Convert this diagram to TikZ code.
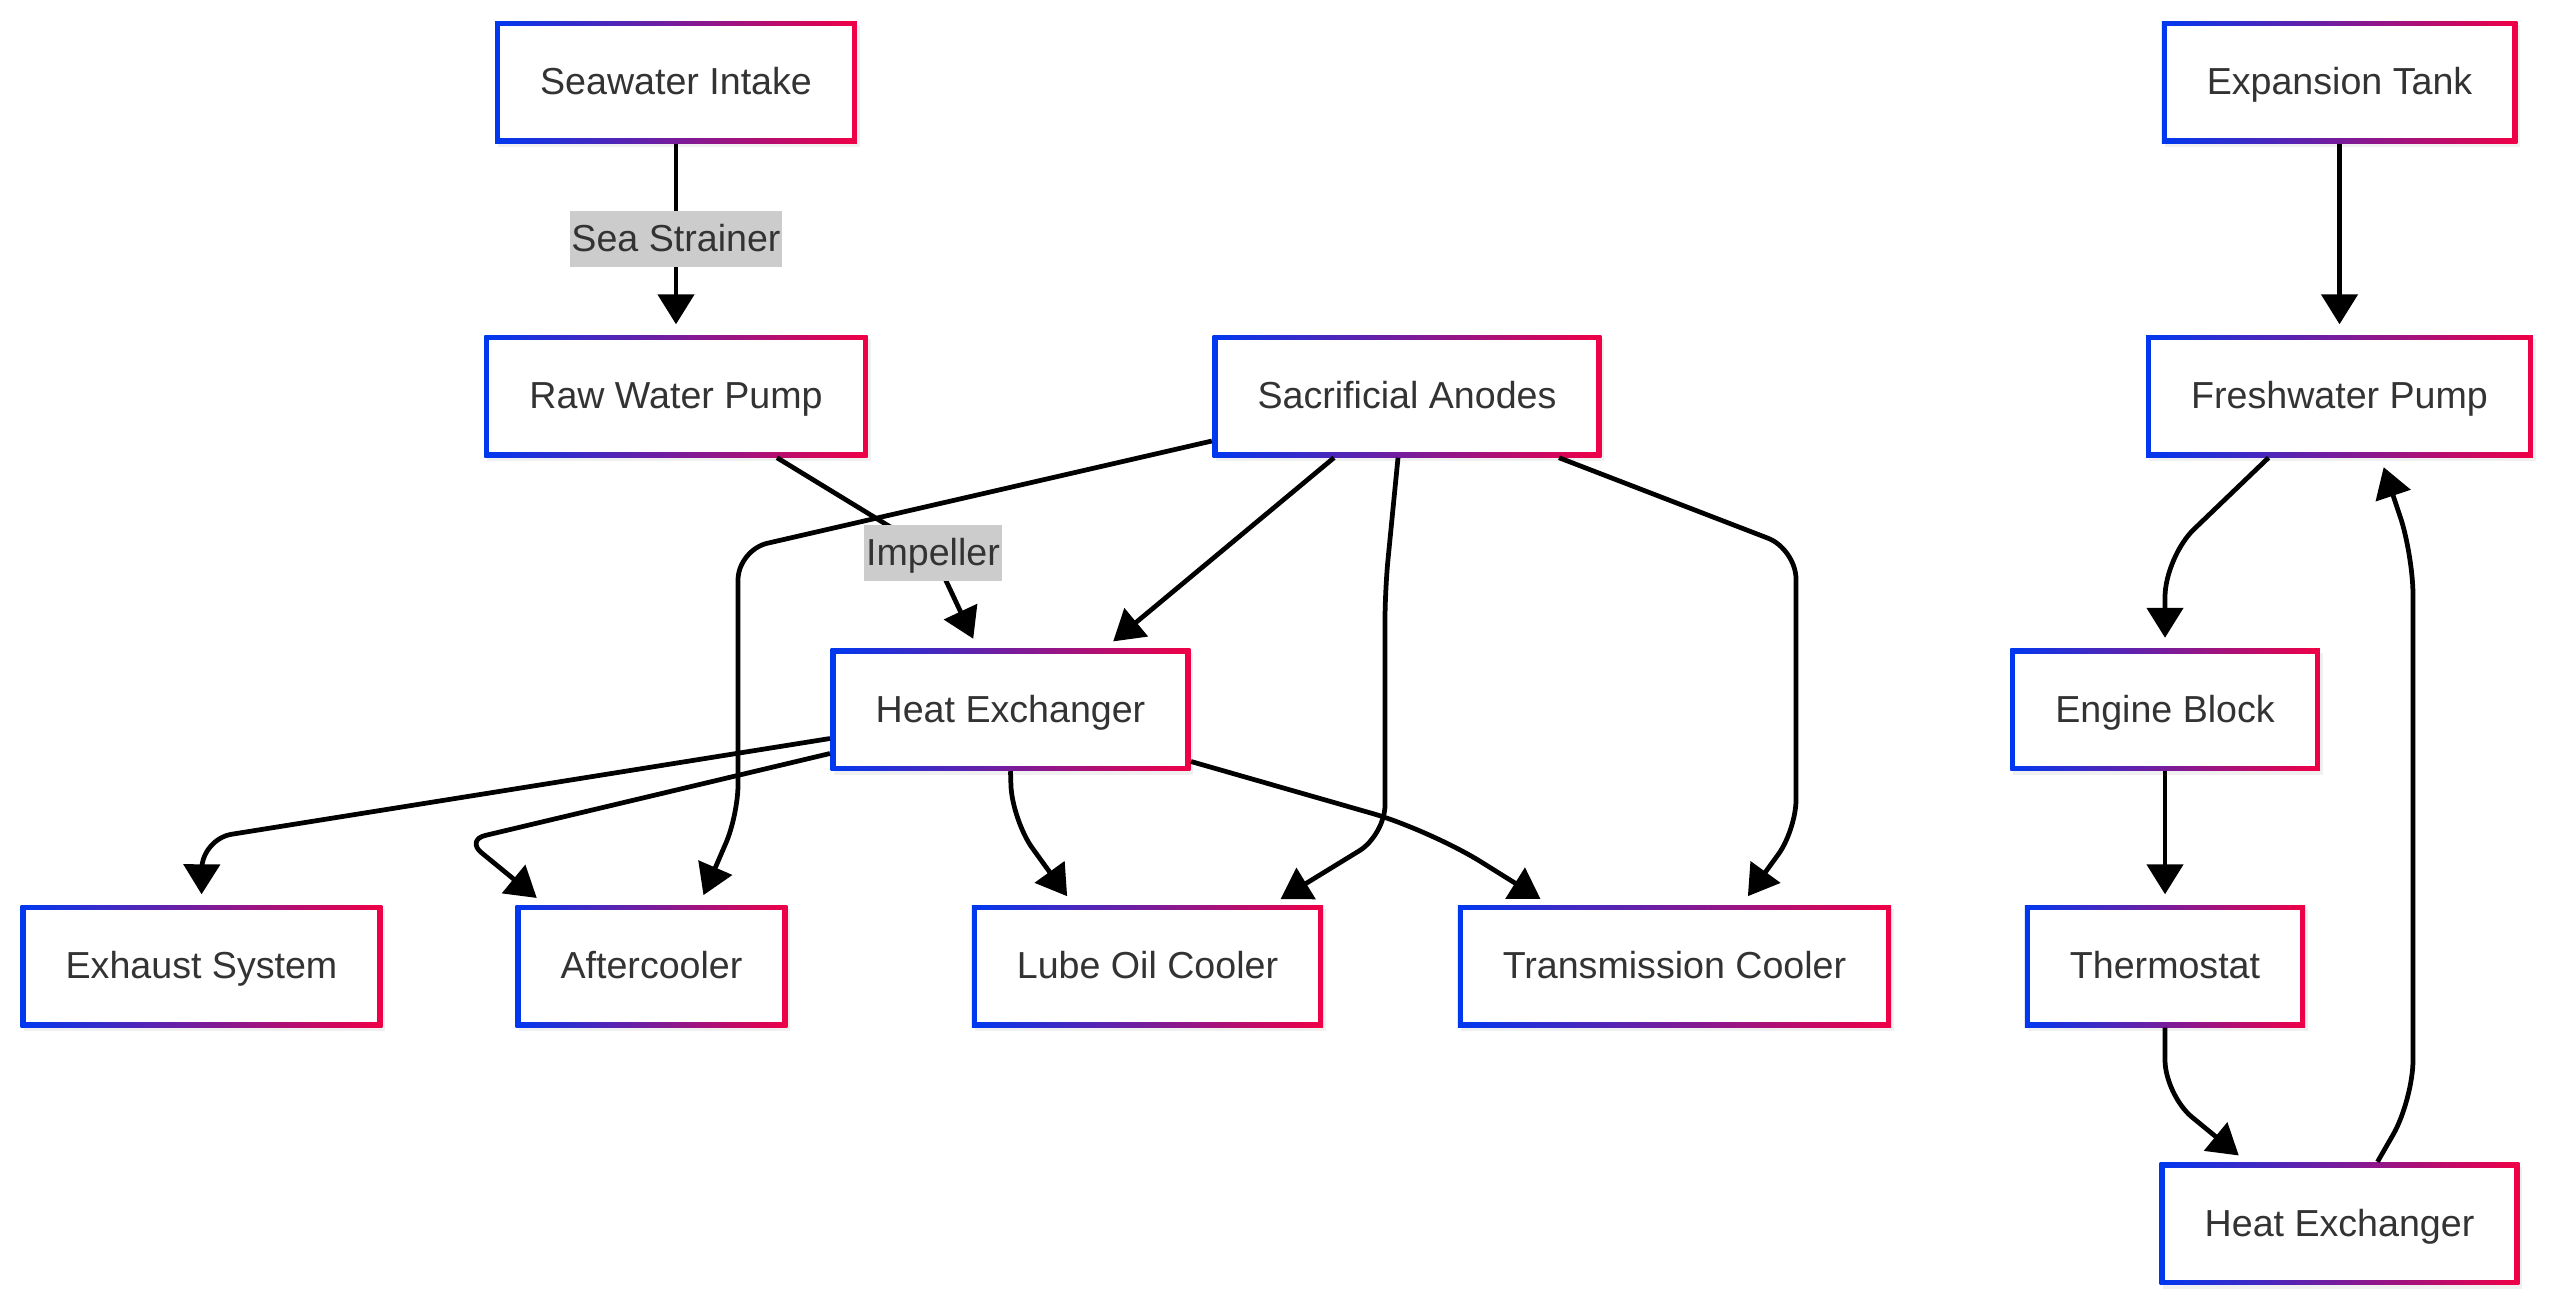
\documentclass[tikz,border=0pt]{standalone}
\usepackage{fontspec}
\setmainfont{Liberation Sans}
\usetikzlibrary{arrows.meta,shadows}
\definecolor{bordblue}{RGB}{0,56,240}
\definecolor{bordred}{RGB}{240,0,70}
\definecolor{txtgray}{RGB}{51,51,51}
\definecolor{taggray}{RGB}{204,204,204}
\tikzset{
	unit/.style={rectangle,minimum height=1.22cm,inner xsep=0.45cm,text=txtgray,
		text height=0.73em,text depth=0pt,
		font=\fontsize{10.7}{13}\selectfont,left color=bordblue,right color=bordred,
		drop shadow={opacity=0.12,shadow xshift=0.03cm,shadow yshift=-0.04cm},
		path picture={\fill[white] ([shift={(0.05cm,0.05cm)}]path picture bounding box.south west) rectangle ([shift={(-0.05cm,-0.05cm)}]path picture bounding box.north east);}},
	flow/.style={line width=1.35pt,rounded corners=0.3cm,shorten >=0.1cm,-{Triangle[length=0.3cm,width=0.36cm]}},
	tag/.style={sharp corners,fill=taggray,text=txtgray,font=\fontsize{10.7}{13}\selectfont,
		text height=0.73em,text depth=0pt,inner xsep=0.5pt,minimum height=0.56cm}
}
\begin{document}
\begin{tikzpicture}
	\useasboundingbox (0,0) rectangle (25.6,-13.1);
	\node[unit] (intake) at (6.76,-0.82) {Seawater Intake};
	\node[unit] (rawpump) at (6.76,-3.96) {Raw Water Pump};
	\node[unit] (anodes) at (14.07,-3.96) {Sacrificial Anodes};
	\node[unit] (hxa) at (10.105,-7.095) {Heat Exchanger};
	\node[unit] (exhaust) at (2.015,-9.66) {Exhaust System};
	\node[unit] (after) at (6.515,-9.66) {Aftercooler};
	\node[unit] (lube) at (11.475,-9.66) {Lube Oil Cooler};
	\node[unit] (trans) at (16.745,-9.66) {Transmission Cooler};
	\node[unit] (tank) at (23.395,-0.82) {Expansion Tank};
	\node[unit] (fwpump) at (23.395,-3.96) {Freshwater Pump};
	\node[unit] (block) at (21.65,-7.095) {Engine Block};
	\node[unit] (thermo) at (21.65,-9.66) {Thermostat};
	\node[unit] (hxb) at (23.395,-12.235) {Heat Exchanger};

	\draw[flow] (intake) -- node[tag]{Sea Strainer} (rawpump);
	\draw[flow] ([xshift=1.01cm]rawpump.south) -- (9.33,-5.53) node[tag]{Impeller} -- ([xshift=-0.33cm]hxa.north);
	\draw[flow] ([yshift=-0.45cm]anodes.west) -- (7.38,-5.50) -- (7.38,-8.15) -- ([xshift=0.48cm]after.north);
	\draw[flow] ([xshift=-0.73cm]anodes.south) -- ([xshift=0.95cm]hxa.north);
	\draw[flow] ([xshift=-0.09cm]anodes.south) -- (13.85,-5.9) -- (13.85,-8.35) -- ([xshift=1.245cm]lube.north);
	\draw[flow] ([xshift=1.52cm]anodes.south) -- (17.96,-5.49) -- (17.96,-8.3) -- ([xshift=0.675cm]trans.north);
	\draw[flow] ([yshift=-0.29cm]hxa.west) -- (2.02,-8.39) -- (exhaust.north);
	\draw[flow,rounded corners=0.2cm] ([yshift=-0.44cm]hxa.west) -- (4.66,-8.40) -- ([xshift=-1.07cm]after.north);
	\draw[flow,rounded corners=0.35cm] (hxa.south) -- (10.12,-8.2) -- ([xshift=-0.745cm]lube.north);
	\draw[flow,rounded corners=0.6cm] ([yshift=-0.52cm]hxa.east) -- (14.3,-8.3) -- ([xshift=-1.255cm]trans.north);
	\draw[flow] (tank) -- (fwpump);
	\draw[flow,rounded corners=0.4cm] ([xshift=-0.71cm]fwpump.south) -- (21.65,-5.57) -- (block.north);
	\draw[flow] (block) -- (thermo);
	\draw[flow,rounded corners=0.35cm] (thermo.south) -- (21.65,-10.95) -- ([xshift=-0.93cm]hxb.north);
	\draw[flow,rounded corners=0.4cm] ([xshift=0.38cm]hxb.north) -- (24.13,-11.0) -- (24.13,-5.55) -- ([xshift=0.41cm]fwpump.south);
\end{tikzpicture}
\end{document}
